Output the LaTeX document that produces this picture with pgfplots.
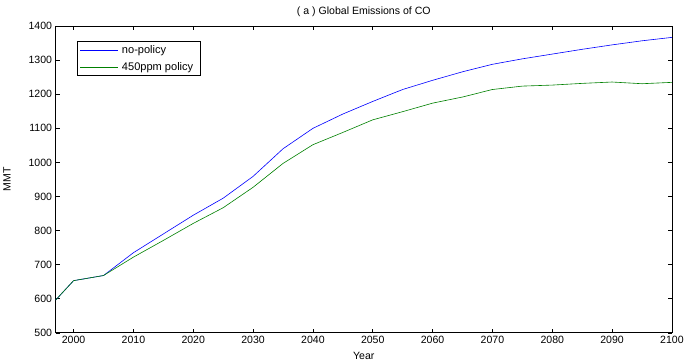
\documentclass[border=0pt]{standalone}
\usepackage{fontspec}
\setmainfont{Liberation Sans}
\usepackage{pgfplots}
\pgfplotsset{compat=1.18}
\definecolor{mblue}{RGB}{0,0,255}
\definecolor{mgreen}{RGB}{0,128,0}
\begin{document}
\begin{tikzpicture}
\begin{axis}[
 scale only axis, width=611bp, height=304bp,
 xmin=1997, xmax=2100, ymin=500, ymax=1400,
 xtick={2000,2010,...,2100}, ytick={500,600,...,1400},
 tick align=inside, major tick length=4bp,
 tick style={black, line width=0.5bp},
 axis line style={line width=0.8bp},
 font=\fontsize{10.5}{12}\selectfont,
 /pgf/number format/assume math mode=true,
 /pgf/number format/set thousands separator={},
 title={( a ) Global Emissions of CO},
 title style={inner ysep=7bp, yshift=-4bp},
 xlabel={Year}, ylabel={MMT},
 xlabel style={yshift=-2bp},
 ylabel shift=11bp,
 legend cell align=left,
 legend style={at={(axis description cs:0.034,0.951)}, anchor=north west, line width=0.8bp, inner xsep=3bp, inner ysep=2bp, nodes={inner xsep=4bp, inner ysep=2bp}, row sep=3bp, font=\fontsize{11}{12}\selectfont},
 legend image code/.code={\draw[mark repeat=2,mark phase=2,#1] plot coordinates {(0bp,0bp) (37bp,0bp)};},
]
\addplot[draw=mblue, line width=0.6bp] coordinates {
(1997,596) (2000,653) (2005,668) (2010,735) (2015,790) (2020,845) (2025,895) (2030,959) (2035,1040) (2040,1100) (2045,1142) (2050,1179) (2055,1214) (2060,1241) (2065,1266) (2070,1288) (2075,1304) (2080,1318) (2085,1332) (2090,1345) (2095,1357) (2100,1367)};
\addlegendentry{no-policy}
\addplot[draw=mgreen, line width=0.6bp] coordinates {
(1997,596) (2000,653) (2005,668) (2010,722) (2015,771) (2020,821) (2025,867) (2030,927) (2035,997) (2040,1052) (2045,1088) (2050,1125) (2055,1149) (2060,1174) (2065,1192) (2070,1214) (2075,1224) (2080,1227) (2085,1232) (2090,1236) (2095,1231) (2100,1235)};
\addlegendentry{450ppm policy}
\end{axis}
\end{tikzpicture}
\end{document}
